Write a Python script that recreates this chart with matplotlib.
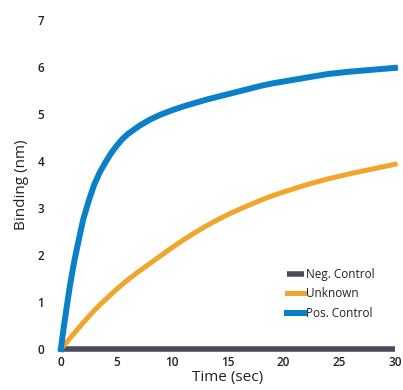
import matplotlib
matplotlib.use("Agg")
import matplotlib.pyplot as plt

time = [0, 0.25, 0.5, 0.75, 1, 1.25, 1.5, 1.75, 2, 2.5, 3, 3.5, 4, 4.5, 5, 5.5, 6, 7, 8, 9, 10,
        11, 12, 13, 14, 15, 16, 17, 18, 19, 20, 22, 24, 26, 28, 30]
neg_control = [0] * len(time)
unknown = [0, 0.07, 0.14, 0.21, 0.28, 0.35, 0.42, 0.49, 0.56, 0.69, 0.82, 0.94, 1.05, 1.16,
           1.27, 1.37, 1.47, 1.65, 1.82, 1.99, 2.16, 2.32, 2.47, 2.61, 2.74, 2.86, 2.97, 3.07,
           3.17, 3.26, 3.34, 3.49, 3.62, 3.73, 3.83, 3.93]
pos_control = [0, 0.45, 0.85, 1.25, 1.60, 1.92, 2.20, 2.48, 2.75, 3.15, 3.50, 3.76, 3.97, 4.16,
               4.32, 4.46, 4.57, 4.74, 4.88, 4.99, 5.08, 5.16, 5.23, 5.30, 5.36, 5.42, 5.48,
               5.54, 5.60, 5.65, 5.69, 5.77, 5.85, 5.90, 5.94, 5.98]
xticks = [0, 5, 10, 15, 20, 25, 30]
yticks = [0, 1, 2, 3, 4, 5, 6, 7]

plt.rcParams['font.family'] = ['Open Sans', 'DejaVu Sans']
fig = plt.figure(figsize=(4.03, 3.90), dpi=100)
ax = fig.add_axes([0.151, 0.105, 0.829, 0.844])

ax.plot(time, neg_control, color='#4b4b5c', lw=4.0, label='Neg. Control', clip_on=False,
        solid_capstyle='butt')
ax.plot(time, unknown, color='#f2a52c', lw=3.6, label='Unknown', clip_on=False,
        solid_joinstyle='round')
ax.plot(time, pos_control, color='#0a80c8', lw=4.3, label='Pos. Control', clip_on=False,
        solid_joinstyle='round')

ax.set_xlim(0, 30)
ax.set_ylim(0, 7)
ax.set_xticks(xticks)
ax.set_yticks(yticks)
for s in ax.spines.values():
    s.set_visible(False)
ax.tick_params(axis='both', length=0, labelsize=8.5, colors='#222222')
ax.tick_params(axis='y', pad=12)
ax.tick_params(axis='x', pad=5)
for lab in ax.get_xticklabels() + ax.get_yticklabels():
    lab.set_fontweight('semibold')

ax.set_xlabel('Time (sec)', fontsize=11, color='#222222', labelpad=1)
ax.set_ylabel('Binding (nm)', fontsize=11, color='#222222', labelpad=6)

leg = ax.legend(loc='lower left', bbox_to_anchor=(0.66, 0.071), frameon=False, fontsize=8.5,
                handlelength=1.4, handletextpad=0.2, labelspacing=0.55, borderpad=0)
for t in leg.get_texts():
    t.set_color('#222222')

fig.savefig('out.png', dpi=100)
